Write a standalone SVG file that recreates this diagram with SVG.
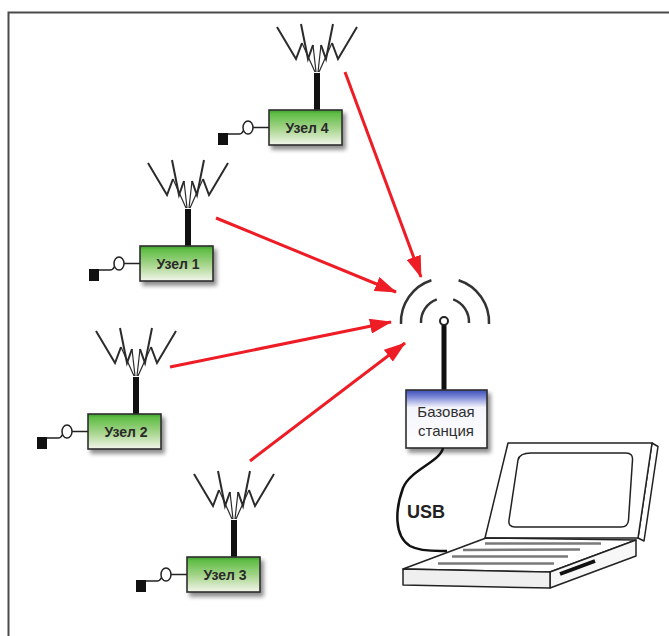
<svg xmlns="http://www.w3.org/2000/svg" width="669" height="636" viewBox="0 0 669 636">
  <defs>
    <linearGradient id="nodeFill" x1="0" y1="0" x2="0" y2="1">
      <stop offset="0" stop-color="#3f9a2c"/>
      <stop offset="0.1" stop-color="#5fbd45"/>
      <stop offset="0.55" stop-color="#a9d68f"/>
      <stop offset="1" stop-color="#f3f6ec"/>
    </linearGradient>
    <linearGradient id="baseFill" x1="0" y1="0" x2="0" y2="1">
      <stop offset="0" stop-color="#3c4fb8"/>
      <stop offset="0.12" stop-color="#7c88d6"/>
      <stop offset="0.3" stop-color="#f4f5fc"/>
      <stop offset="1" stop-color="#ffffff"/>
    </linearGradient>
    <filter id="shadow" x="-20%" y="-20%" width="150%" height="160%">
      <feGaussianBlur in="SourceAlpha" stdDeviation="2.2"/>
      <feOffset dx="3" dy="4" result="b"/>
      <feComponentTransfer><feFuncA type="linear" slope="0.45"/></feComponentTransfer>
      <feMerge><feMergeNode/><feMergeNode in="SourceGraphic"/></feMerge>
    </filter>
    <marker id="head" viewBox="0 0 22 15" refX="21" refY="7.5" markerWidth="22" markerHeight="15" markerUnits="userSpaceOnUse" orient="auto">
      <path d="M0,0 L22,7.5 L0,15 Z" fill="#ee1c25"/>
    </marker>
    <!-- antenna rays, origin at the mast top: zigzag tops, thin feeds to the mast -->
    <g id="rays" fill="none" stroke="#2b2b2b" stroke-linejoin="miter">
      <path stroke-width="2" d="M-40,-46 L-21,-14 L-15,-30 M-16,-49 L-9,-14 L-4,-28 M16,-49 L9,-14 L4,-28 M40,-46 L21,-14 L15,-30"/>
      <path stroke-width="1.2" d="M-15,-30 L-2,-1 M-4,-28 L-1,-1 M4,-28 L1,-1 M15,-30 L2,-1"/>
    </g>
  </defs>
  <style>
    .box { fill: url(#nodeFill); stroke: #2e2e2e; stroke-width: 1.6; }
    .mast { fill: #111; }
    .plug { fill: #111; }
    .wire { fill: none; stroke: #222; stroke-width: 1.5; }
    .ring { fill: #fff; stroke: #222; stroke-width: 1.5; }
    .label { font-family: "Liberation Sans", Arial, sans-serif; font-weight: bold; font-size: 14px; fill: #2a2a2a; text-anchor: middle; }
    .link { fill: none; stroke: #ee1c25; stroke-width: 3; marker-end: url(#head); }
    .arc { fill: none; stroke: #333; stroke-width: 2.5; }
    .edge { fill: #fff; stroke: #222; stroke-width: 1.5; stroke-linejoin: round; }
    .keys { stroke: #7a7a7a; stroke-width: 2.5; }
  </style>

  <!-- frame -->
  <path d="M8.5,636 V12.5 H669" fill="none" stroke="#4a4a4a" stroke-width="2"/>

  <!-- sensor nodes -->
  <g id="node4" transform="translate(269,110)">
    <use href="#rays" x="48" y="-37"/>
    <rect class="mast" x="45" y="-37" width="6" height="37"/>
    <rect class="box" x="0" y="0" width="73" height="35" filter="url(#shadow)"/>
    <rect class="plug" x="-51" y="23" width="10" height="12"/>
    <path class="wire" d="M-41,24 L-30,24 Q-27,24 -25.5,20.5 M-16,17.5 L0,17.5"/>
    <ellipse class="ring" cx="-21" cy="17.5" rx="5" ry="6.5"/>
    <text class="label" x="38" y="22.5">Узел 4</text>
  </g>

  <g id="node1" transform="translate(140,246)">
    <use href="#rays" x="48" y="-37"/>
    <rect class="mast" x="45" y="-37" width="6" height="37"/>
    <rect class="box" x="0" y="0" width="73" height="35" filter="url(#shadow)"/>
    <rect class="plug" x="-51" y="23" width="10" height="12"/>
    <path class="wire" d="M-41,24 L-30,24 Q-27,24 -25.5,20.5 M-16,17.5 L0,17.5"/>
    <ellipse class="ring" cx="-21" cy="17.5" rx="5" ry="6.5"/>
    <text class="label" x="38" y="22.5">Узел 1</text>
  </g>

  <g id="node2" transform="translate(88,414)">
    <use href="#rays" x="48" y="-37"/>
    <rect class="mast" x="45" y="-37" width="6" height="37"/>
    <rect class="box" x="0" y="0" width="73" height="35" filter="url(#shadow)"/>
    <rect class="plug" x="-51" y="23" width="10" height="12"/>
    <path class="wire" d="M-41,24 L-30,24 Q-27,24 -25.5,20.5 M-16,17.5 L0,17.5"/>
    <ellipse class="ring" cx="-21" cy="17.5" rx="5" ry="6.5"/>
    <text class="label" x="38" y="22.5">Узел 2</text>
  </g>

  <g id="node3" transform="translate(187,557)">
    <use href="#rays" x="47" y="-37"/>
    <rect class="mast" x="44" y="-37" width="6" height="37"/>
    <rect class="box" x="0" y="0" width="73" height="35" filter="url(#shadow)"/>
    <rect class="plug" x="-51" y="23" width="10" height="12"/>
    <path class="wire" d="M-41,24 L-30,24 Q-27,24 -25.5,20.5 M-16,17.5 L0,17.5"/>
    <ellipse class="ring" cx="-21" cy="17.5" rx="5" ry="6.5"/>
    <text class="label" x="38" y="22.5">Узел 3</text>
  </g>

  <!-- base station -->
  <g id="base">
    <path class="arc" d="M421,323 A24,24 0 0,1 436.8,299.4 M453.2,299.4 A24,24 0 0,1 469,323"/>
    <path class="arc" d="M401,324 A44,44 0 0,1 431.4,280.2 M458.6,280.2 A44,44 0 0,1 489,324"/>
    <rect class="mast" x="441.5" y="324" width="5" height="67"/>
    <circle cx="444" cy="321" r="4" fill="#fff" stroke="#222" stroke-width="2"/>
    <rect x="406" y="390" width="81" height="58" fill="url(#baseFill)" stroke="#2e2e2e" stroke-width="1.6" filter="url(#shadow)"/>
    <text x="446" y="417" font-family="Liberation Sans, Arial, sans-serif" font-size="15" fill="#2e2e2e" text-anchor="middle">Базовая</text>
    <text x="446" y="436" font-family="Liberation Sans, Arial, sans-serif" font-size="15" fill="#2e2e2e" text-anchor="middle">станция</text>
  </g>

  <!-- laptop -->
  <g id="laptop">
    <polygon class="edge" points="652,443 658,446.5 644,541 638,538"/>
    <polygon class="edge" points="508,443 652,443 638,538 485,538"/>
    <path class="edge" d="M531,453 L626,453 Q633,453 632.5,460 L628.5,520 Q628,527 621,527 L515,527 Q508,527 509,520 L518,460 Q519.5,453 531,453 Z"/>
    <polygon class="edge" points="403,569 486,538 636,540 550,572"/>
    <polygon class="edge" points="550,572 636,540 636,556 550,588" style="fill:#f7f7f7"/>
    <polygon class="edge" points="403,569 550,572 550,588 403,585" style="fill:#efefef"/>
    <g class="keys">
      <line x1="485" y1="543.5" x2="601" y2="543.5"/>
      <line x1="463" y1="550" x2="580" y2="549.5"/>
      <line x1="452" y1="556.5" x2="568" y2="556.5"/>
      <line x1="438" y1="563.5" x2="554" y2="563.5"/>
    </g>
    <line x1="560" y1="574" x2="595" y2="561" stroke="#111" stroke-width="4"/>
  </g>

  <!-- links -->
  <g id="connectors">
    <path class="link" d="M345,72 L421,277"/>
    <path class="link" d="M216,218 L396,292"/>
    <path class="link" d="M170,367 L391,322"/>
    <path class="link" d="M250,461 L405,343"/>
    <path d="M443,448 C440,462 410,470 403,488 C395,510 394,536 410,546 C421,552 438,551 447,551" fill="none" stroke="#111" stroke-width="2.5"/>
    <text x="407" y="518" font-family="Liberation Sans, Arial, sans-serif" font-size="18" font-weight="bold" fill="#222">USB</text>
  </g>
</svg>
